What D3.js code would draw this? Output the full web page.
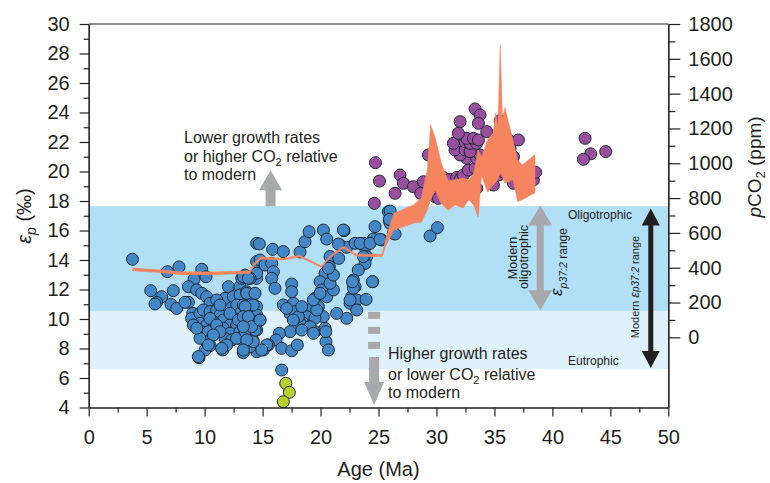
<!DOCTYPE html>
<html>
<head>
<meta charset="utf-8">
<script src="https://cdn.jsdelivr.net/npm/d3@7"></script>
<style>
body { margin:0; background:#fff; }
text { font-family: "Liberation Sans", Arial, Helvetica, sans-serif; fill:#231f20; }
.axis path, .axis line { stroke:#231f20; stroke-width:1.2; }
.axis text { font-size:20px; fill:#231f20; }
</style>
</head>
<body>
<div id="chart-area"></div>
<script>
// [age (Ma), eps_p (permil)]
var bluePoints = [
  [3.77,14.05],[6.79,13.21],[7.79,13.53],[9.75,13.37],[10.12,12.87],[9.09,12.69],[5.35,11.92],[7.30,11.92],
  [6.30,11.51],[5.86,11.13],[5.72,11.02],[7.10,11.0],[7.59,10.72],[8.60,12.19],[9.32,11.97],[9.75,11.74],
  [10.18,11.51],[10.47,11.06],[8.60,11.13],[8.31,11.13],[8.97,10.38],[8.88,10.04],[9.60,10.38],[9.89,10.61],
  [10.47,10.5],[11.04,10.61],[11.33,10.27],[11.62,9.93],[11.90,10.95],[11.76,11.4],[12.05,12.19],[12.48,11.51],
  [13.05,12.19],[13.05,11.63],[13.63,11.85],[13.77,11.17],[12.77,10.95],[13.05,10.38],[13.63,10.5],[13.92,10.16],
  [14.49,10.84],[14.49,10.27],[12.48,10.04],[12.19,9.59],[12.77,9.59],[13.34,9.71],[13.92,9.59],[14.49,9.82],
  [9.60,9.71],[10.18,9.59],[10.75,9.82],[9.75,9.14],[10.32,9.14],[11.62,9.37],[12.19,9.03],[13.05,9.14],
  [13.92,9.14],[14.49,9.25],[11.76,8.69],[12.34,8.58],[13.2,8.58],[14.15,8.58],[10.18,8.46],[10.47,8.19],
  [10.04,7.9],[11.56,7.9],[13.34,7.72],[9.52,7.38],[14.49,7.78],[14.49,12.76],[14.49,13.89],[14.49,15.13],
  [13.2,12.76],[13.92,12.76],[11.04,11.29],[11.33,10.95],[10.47,10.04],[11.04,9.59],[11.33,9.14],[10.75,8.92],
  [9.6,8.69],[9.03,9.59],[9.32,9.37],[12.77,8.69],[12.19,10.38],[13.34,10.95],[14.06,11.51],[12.91,9.93],
  [13.49,9.14],[14.2,9.59],[11.9,8.24],[13.92,8.12],
  [14.72,15.09],[15.87,14.72],[16.79,14.57],[18.23,14.54],[18.66,15.24],[19.01,15.92],[20.24,16.03],[20.53,15.42],
  [22.03,15.99],[21.68,15.02],[22.26,14.86],[22.98,15.13],[23.70,15.13],[23.84,14.86],[24.56,15.42],[25.28,15.36],
  [24.70,16.26],[25.85,17.28],[25.94,16.67],[14.78,14.0],[15.21,13.66],[15.79,13.77],[14.49,13.1],[13.92,12.76],
  [13.49,12.98],[15.93,13.21],[15.79,12.76],[16.07,12.08],[20.82,14.23],[20.76,13.55],[21.57,14.11],[20.39,13.1],
  [19.96,12.53],[20.10,11.97],[20.53,11.51],[19.52,11.4],[19.81,10.84],[19.24,10.72],[18.81,10.16],[18.52,9.71],
  [19.09,9.48],[19.52,9.14],[20.39,9.37],[20.47,8.46],[20.68,7.9],[20.24,10.16],[19.52,10.05],[17.51,12.37],
  [17.51,11.85],[16.79,10.95],[17.66,11.06],[17.37,10.38],[17.8,10.5],[18.23,9.71],[17.37,9.14],[16.45,9.03],
  [16.16,8.58],[16.65,8.01],[17.51,7.85],[18.0,8.24],[15.5,8.24],[15.07,7.9],[14.2,8.46],[14.35,9.25],
  [14.78,9.93],[23.98,14.23],[23.84,13.77],[23.26,13.32],[22.83,12.64],[22.98,12.19],[22.69,11.51],[22.55,11.06],
  [23.12,11.29],[23.93,11.33],[24.5,12.53],[23.12,10.61],[22.26,10.05],[21.39,10.38],[13.63,11.74],[14.2,10.95],
  [13.49,10.84],[13.34,10.16],[13.77,10.16],[14.06,9.48],[13.34,9.48],[13.63,8.58],[13.34,7.9],[16.65,6.54],
  [17.08,10.72],[18.09,10.16],[18.38,10.84],[19.09,9.48],[18.38,9.25],[19.67,10.61],[17.65,9.93],[19.38,11.29],
  [19.96,11.74],[19.38,9.03],[20.45,9.14],[21.11,11.97],[20.82,12.42],[21.11,12.98],[20.68,13.44],[22.55,11.29],
  [22.83,12.08],[22.75,12.53],[23.7,14.23],[23.41,15.13],[24.27,15.13],[26.0,16.49],[26.28,15.81],[24.47,12.53],
  [13.34,12.87],[13.77,12.76],[14.35,11.74],[14.78,9.93],[15.36,8.24],[14.92,7.9],[11.47,8.01],[10.32,8.24],
  [9.46,7.45],[26.0,17.32],[25.94,16.76],[26.43,15.76],[21.97,16.03],[21.54,15.08],[25.13,15.4],[29.45,15.63],
  [30.08,16.19]
];
var purplePoints = [
  [24.74,20.6],[25.08,19.35],[24.64,17.84],[26.43,18.52],[26.86,19.76],[27.15,19.2],[28.01,18.97],[28.87,19.31],
  [28.64,18.52],[29.3,21.12],[29.88,18.29],[30.17,18.18],[30.74,18.75],[30.6,19.6],[31.17,19.47],[31.75,19.6],
  [32.04,19.47],[32.32,19.76],[32.75,20.1],[33.33,20.22],[32.61,20.89],[33.47,20.89],[33.76,21.12],[32.04,21.12],
  [31.6,21.46],[31.46,21.91],[32.47,21.46],[32.9,21.34],[32.47,22.02],[32.9,21.91],[33.47,21.91],[32.61,22.25],
  [33.19,22.25],[33.62,22.14],[31.89,22.59],[32.04,23.38],[33.33,24.24],[33.76,23.83],[33.62,23.27],[34.34,22.7],
  [35.49,23.45],[34.63,21.0],[33.47,18.86],[34.91,19.08],[35.34,19.76],[35.78,19.99],[35.63,20.67],[36.21,22.14],
  [37.07,22.14],[36.35,21.57],[36.64,21.0],[36.64,19.2],[37.79,19.31],[38.36,19.42],[38.55,19.95],
  [42.82,22.25],[43.31,21.2],[42.68,20.83],[44.6,21.35]
];
var greenPoints = [[17.0,5.64],[17.31,5.03],[16.79,4.39]];

// pCO2 band (ppm), right axis
var co2Age  = [3.8,6.5,8.0,10.5,13.9,14.3,14.8,16.8,18.2,20.1,20.8,22.0,23.1,25.3,25.6,26.3,28.0,28.7,29.2,29.5,
               29.9,30.4,31.0,31.6,32.3,32.8,33.2,33.6,33.9,34.4,34.9,35.1,35.3,35.5,35.7,35.9,36.6,37.0,37.4,38.5];
var co2Low  = [382,370,360,360,367,412,448,444,462,400,456,512,466,463,520,615,655,662,730,790,
               845,770,730,760,743,790,760,690,930,835,875,890,905,950,920,885,905,780,790,830];
var co2High = [398,386,377,376,382,428,462,454,472,410,468,524,478,478,560,712,760,800,960,1220,
               1145,1005,900,905,915,905,940,1075,1035,1135,1175,1290,1205,1680,1250,1320,1135,1020,990,1050];

var bandOligo = [10.55, 17.65];
var bandEutro = [6.6, 10.55];

var margin = { left:88.7, right:101.7, top:24, bottom:75.5 };
var width = 770 - margin.left - margin.right;
var height = 483 - margin.top - margin.bottom;

var svg = d3.select("#chart-area")
    .append("svg")
        .attr("width", 770)
        .attr("height", 483);

var g = svg.append("g")
    .attr("transform", "translate(" + margin.left + "," + margin.top + ")");

var x = d3.scaleLinear().domain([0,50]).range([0,width]);
var y = d3.scaleLinear().domain([4,30]).range([height,0]);
var yCO2 = d3.scaleLinear().domain([-403,1800]).range([height,0]);

// background bands
g.append("rect")
    .attr("x",0).attr("width",width)
    .attr("y",y(bandEutro[1])).attr("height",y(bandEutro[0]) - y(bandEutro[1]))
    .attr("fill","#dff1fb");
g.append("rect")
    .attr("x",0).attr("width",width)
    .attr("y",y(bandOligo[1])).attr("height",y(bandOligo[0]) - y(bandOligo[1]))
    .attr("fill","#b1e0f6");

function dots(data, fill){
    g.append("g").selectAll("circle")
        .data(data)
        .enter()
        .append("circle")
            .attr("cx",function(d){ return x(d[0]); })
            .attr("cy",function(d){ return y(d[1]); })
            .attr("r",6)
            .attr("fill",fill)
            .attr("stroke","#1f2a36")
            .attr("stroke-width",1);
}
dots(bluePoints,"#4387c7");
dots(greenPoints,"#b8cf2f");
dots(purplePoints,"#9a4f9e");

// orange pCO2 band
var co2 = co2Age.map(function(a,i){ return { age:a, low:co2Low[i], high:co2High[i] }; });
var area = d3.area()
    .x(function(d){ return x(d.age); })
    .y0(function(d){ return yCO2(d.low); })
    .y1(function(d){ return yCO2(d.high); });
g.append("path")
    .datum(co2)
    .attr("d",area)
    .attr("fill","#f5855f")
    .attr("stroke","#f5855f")
    .attr("stroke-width",0.5);

// annotation arrows
var grey = "#a7a9ac";
var ux = x(15.69), uTop = y(bandOligo[1]) - 36;
g.append("path")
    .attr("d","M"+ux+","+uTop+" L"+(ux+11.5)+","+(uTop+20)+" L"+(ux+5)+","+(uTop+20)+" L"+(ux+5)+","+y(bandOligo[1])+
              " L"+(ux-5)+","+y(bandOligo[1])+" L"+(ux-5)+","+(uTop+20)+" L"+(ux-11.5)+","+(uTop+20)+"Z")
    .attr("fill",grey);

var dx = x(24.62), dTop = y(bandOligo[0]);
[1,16,31].forEach(function(o){
    g.append("rect").attr("x",dx-6).attr("width",12).attr("y",dTop+o).attr("height",7).attr("fill",grey);
});
g.append("path")
    .attr("d","M"+(dx-5)+","+(dTop+46)+" L"+(dx+5)+","+(dTop+46)+" L"+(dx+5)+","+(dTop+71)+" L"+(dx+10)+","+(dTop+71)+
              " L"+dx+","+(dTop+94)+" L"+(dx-10)+","+(dTop+71)+" L"+(dx-5)+","+(dTop+71)+"Z")
    .attr("fill",grey);

function doubleArrow(cx, top, bot, headLen, headHalf, shaftHalf, fill){
    g.append("path")
        .attr("d","M"+cx+","+top+" L"+(cx+headHalf)+","+(top+headLen)+" L"+(cx+shaftHalf)+","+(top+headLen)+
                  " L"+(cx+shaftHalf)+","+(bot-headLen)+" L"+(cx+headHalf)+","+(bot-headLen)+" L"+cx+","+bot+
                  " L"+(cx-headHalf)+","+(bot-headLen)+" L"+(cx-shaftHalf)+","+(bot-headLen)+
                  " L"+(cx-shaftHalf)+","+(top+headLen)+" L"+(cx-headHalf)+","+(top+headLen)+"Z")
        .attr("fill",fill);
}
doubleArrow(x(38.95), y(17.7), y(10.6), 20, 12, 3.5, grey);
doubleArrow(x(48.49), y(17.5), y(6.68), 17, 9, 2.5, "#231f20");

// annotation texts: the 3 lines, the second one has CO2 with subscript
function note(x0, ys, first, before, third){
    g.append("text").attr("x",x0).attr("y",ys[0]).style("font-size","16px").text(first);
    var t = g.append("text").attr("x",x0).attr("y",ys[1]).style("font-size","16px");
    t.append("tspan").text(before + " CO");
    t.append("tspan").attr("dy",4).style("font-size","11px").text("2");
    t.append("tspan").attr("dy",-4).text(" relative");
    g.append("text").attr("x",x0).attr("y",ys[2]).style("font-size","16px").text(third);
}
note(184 - margin.left, [119,138,156], "Lower growth rates", "or higher", "to modern");
note(388 - margin.left, [335,356,374], "Higher growth rates", "or lower", "to modern");

g.append("text").attr("x",568 - margin.left).attr("y",219 - margin.top).style("font-size","12px").text("Oligotrophic");
g.append("text").attr("x",568 - margin.left).attr("y",365 - margin.top).style("font-size","12px").text("Eutrophic");

function vtext(bx, cy){
    return g.append("text")
        .attr("transform","translate(" + (bx - margin.left) + "," + (cy - margin.top) + ") rotate(-90)")
        .attr("text-anchor","middle");
}
vtext(517,258).style("font-size","12.5px").text("Modern");
vtext(528,257).style("font-size","12.5px").text("oligotrophic");
var t1 = vtext(562,262).style("font-size","12px");
t1.append("tspan").style("font-size","17px").style("font-style","italic").text("ε");
t1.append("tspan").attr("dy",5).style("font-style","italic").style("font-size","10.5px").text("p37:2");
t1.append("tspan").text(" range");
var t2 = vtext(639,287).style("font-size","11px");
t2.append("tspan").text("Modern ");
t2.append("tspan").style("font-size","13px").style("font-style","italic").text("ε");
t2.append("tspan").style("font-size","10px").style("font-style","italic").text("p37:2");
t2.append("tspan").text(" range");

// axes
var bottomAxis = d3.axisBottom(x).tickValues(d3.range(0,51,5)).tickSize(9).tickSizeOuter(0).tickPadding(13);
var bottomMinor = d3.axisBottom(x).tickValues(d3.range(2.5,50,5)).tickSize(5).tickSizeOuter(0).tickFormat("");
var leftAxis = d3.axisLeft(y).tickValues(d3.range(4,31,2)).tickSize(9).tickSizeOuter(0).tickPadding(10);
var leftMinor = d3.axisLeft(y).tickValues(d3.range(5,30,2)).tickSize(5).tickSizeOuter(0).tickFormat("");
var rightAxis = d3.axisRight(yCO2).tickValues(d3.range(0,1801,200)).tickSize(12).tickSizeOuter(0).tickPadding(8)
    .tickFormat(d3.format("d"));
var rightMinor = d3.axisRight(yCO2).tickValues(d3.range(100,1800,200)).tickSize(7).tickSizeOuter(0).tickFormat("");

g.append("g").attr("class","axis").attr("transform","translate(0,"+height+")").call(bottomAxis);
g.append("g").attr("class","axis").attr("transform","translate(0,"+height+")").call(bottomMinor);
g.append("g").attr("class","axis").call(leftAxis);
g.append("g").attr("class","axis").call(leftMinor);
g.append("g").attr("class","axis").attr("transform","translate("+width+",0)").call(rightAxis);
g.append("g").attr("class","axis").attr("transform","translate("+width+",0)").call(rightMinor);
g.selectAll(".axis text").attr("font-family",null);
g.append("line").attr("x1",0).attr("x2",width).attr("y1",0).attr("y2",0)
    .attr("stroke","#231f20").attr("stroke-width",1.2);

// axis titles
g.append("text")
    .attr("x",width/2).attr("y",476 - margin.top)
    .attr("text-anchor","middle")
    .style("font-size","20px")
    .text("Age (Ma)");

var yl = svg.append("text")
    .attr("transform","translate(31,216) rotate(-90)")
    .attr("text-anchor","middle")
    .style("font-size","20px");
yl.append("tspan").style("font-style","italic").text("ε");
yl.append("tspan").attr("dy",5).style("font-style","italic").style("font-size","14px").text("p");
yl.append("tspan").attr("dy",-5).text(" (‰)");

var yr = svg.append("text")
    .attr("transform","translate(761,167) rotate(-90)")
    .attr("text-anchor","middle")
    .style("font-size","19px");
yr.append("tspan").style("font-style","italic").text("p");
yr.append("tspan").text("CO");
yr.append("tspan").attr("dy",4).style("font-size","13px").text("2");
yr.append("tspan").attr("dy",-4).text(" (ppm)");
</script>
</body>
</html>
